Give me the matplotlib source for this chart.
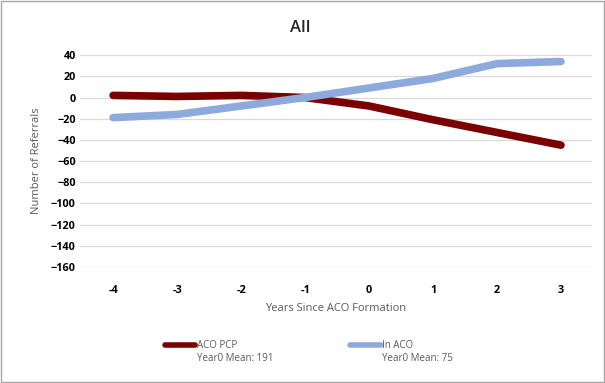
import matplotlib.pyplot as plt
from matplotlib.lines import Line2D
from matplotlib.patches import Rectangle

years = [-4, -3, -2, -1, 0, 1, 2, 3]
aco_pcp = [2, 1, 2, 0, -8, -21, -33, -45]
in_aco = [-19, -16, -8, 0, 9, 18, 32, 34]
series_names = ["ACO PCP", "In ACO"]
year0_means = [191, 75]
colors = ["#7B0000", "#8EA9DB"]

plt.rcParams['font.family'] = ['Open Sans', 'DejaVu Sans']

fig = plt.figure(figsize=(6.05, 3.83), dpi=100)
ax = fig.add_axes([0.132, 0.303, 0.846, 0.553])

ax.plot(years, aco_pcp, color=colors[0], lw=5.5, solid_capstyle='round', zorder=3)
ax.plot(years, in_aco, color=colors[1], lw=5.5, solid_capstyle='round', zorder=4)

ax.set_xlim(-4.52, 3.48)
ax.set_ylim(-160, 40)
ax.set_yticks(range(-160, 41, 20))
ax.set_xticks(years)
ax.set_xticklabels([str(y) for y in years])
ax.grid(axis='y', color='#D9D9D9', lw=0.9)
ax.set_axisbelow(True)
for s in ax.spines.values():
    s.set_visible(False)
ax.tick_params(length=0, labelsize=7.8, colors='#000000')
ax.tick_params(axis='x', pad=13)
ax.tick_params(axis='y', pad=3)
for lab in ax.get_xticklabels() + ax.get_yticklabels():
    lab.set_fontweight('bold')

ax.set_ylabel("Number of Referrals", fontsize=8, color='#595959', labelpad=6)
ax.set_xlabel("Years Since ACO Formation", fontsize=8, color='#595959', labelpad=5)
fig.text(0.496, 0.927, "All", ha='center', va='center', fontsize=12,
         fontweight='semibold', color='#262626')

# legend drawn manually (two-line entries)
leg_x = [0.273, 0.579]
for i in range(2):
    x0 = leg_x[i]
    fig.add_artist(Line2D([x0, x0 + 0.05], [0.099, 0.099], transform=fig.transFigure,
                          color=colors[i], lw=4, solid_capstyle='round'))
    fig.text(x0 + 0.052, 0.099, series_names[i], fontsize=7, color='#595959', va='center')
    fig.text(x0 + 0.052, 0.064, "Year0 Mean: %d" % year0_means[i], fontsize=7,
             color='#595959', va='center')

fig.add_artist(Rectangle((0.002, 0.003), 0.996, 0.994, transform=fig.transFigure,
                         fill=False, edgecolor='#A6A6A6', lw=1))

fig.savefig("out.png", dpi=100)
